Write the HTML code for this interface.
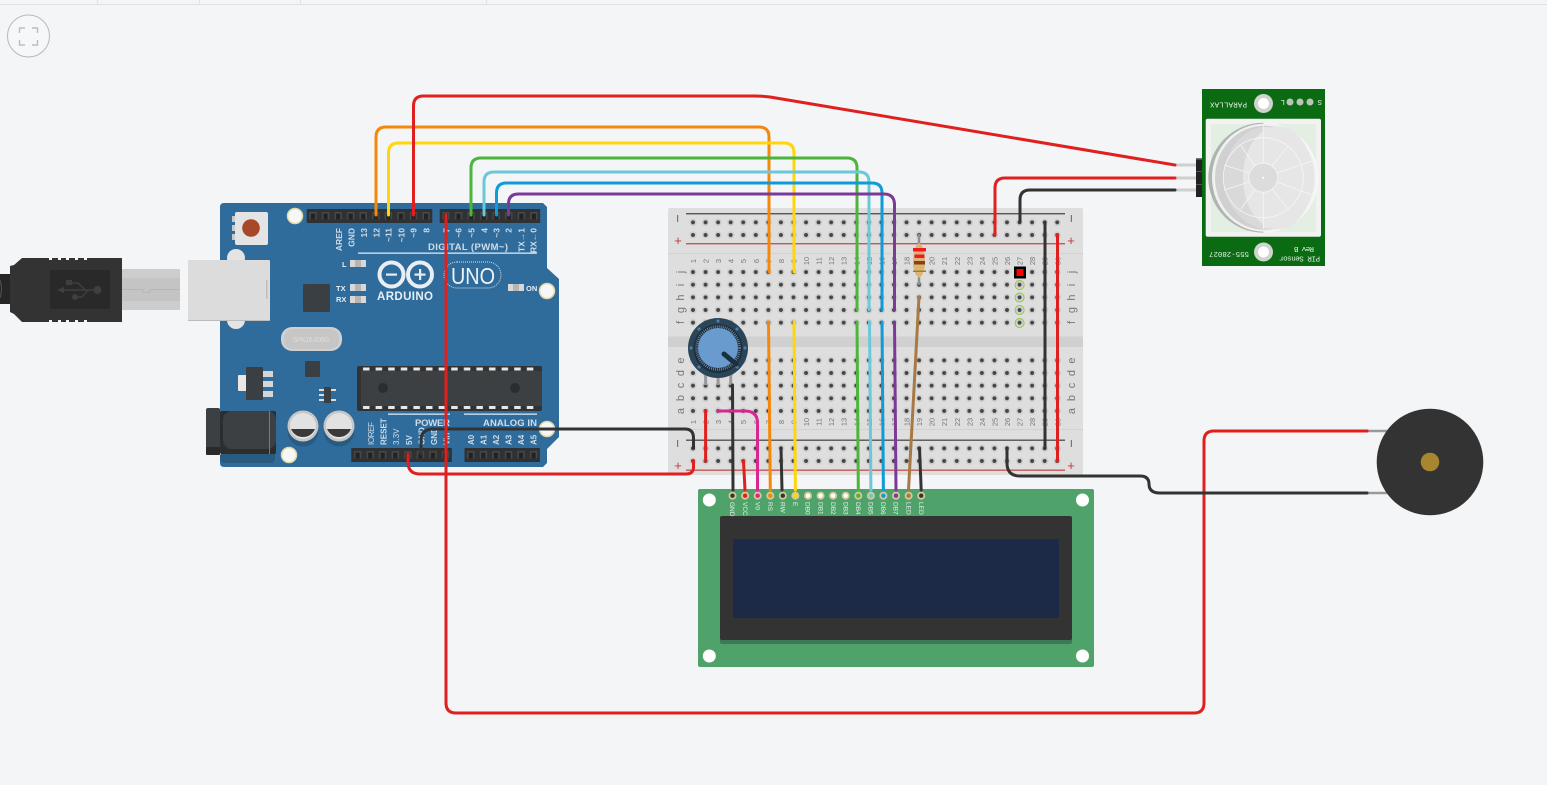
<!DOCTYPE html>
<html><head><meta charset="utf-8"><title>Circuit</title>
<style>
html,body{margin:0;padding:0;background:#f4f5f7;width:1547px;height:785px;overflow:hidden}
svg{display:block;position:absolute;left:0;top:0}
text{font-family:"Liberation Sans",sans-serif}
.w{fill:none;stroke-width:3;stroke-linecap:round;stroke-linejoin:round}
.ar{font-size:8.5px;fill:#cfdde8;font-weight:bold;text-anchor:end}
.ab{font-size:8px;fill:#cfdde8;font-weight:bold;text-anchor:start}
.bl{font-size:7.5px;fill:#777;text-anchor:middle}
.bm{font-size:11px;fill:#777;text-anchor:middle}
.lc{font-size:6.5px;fill:#e8f2ea;text-anchor:start}
.pir{font-size:7.5px;fill:#e8f0e8;font-family:"Liberation Mono",monospace}
</style></head><body>
<svg width="1547" height="785" viewBox="0 0 1547 785" xmlns="http://www.w3.org/2000/svg">
<defs>
<pattern id="h" width="12.56" height="12.65" patternUnits="userSpaceOnUse"><circle cx="6.28" cy="6.32" r="3.6" fill="#cdcdcd"/><circle cx="6.28" cy="6.32" r="2" fill="#454545"/></pattern>
<pattern id="hd" width="12.56" height="14" patternUnits="userSpaceOnUse"><rect width="12.56" height="14" fill="#2f3133"/><rect x="2.6" y="3" width="7.4" height="7.4" fill="#45484a"/><rect x="4.2" y="4.6" width="4.2" height="5.8" fill="#222"/></pattern>
<pattern id="tt" width="12.6" height="4" patternUnits="userSpaceOnUse"><rect x="3" y="0" width="6.5" height="3" fill="#e8e8e8"/></pattern>
</defs>
<rect width="1547" height="785" fill="#f4f5f7"/>
<!-- top bar -->
<rect x="0" y="4" width="1547" height="1" fill="#dfe2e8"/>
<g fill="#dfe2e8"><rect x="97" y="0" width="1" height="4"/><rect x="199" y="0" width="1" height="4"/><rect x="300" y="0" width="1" height="4"/><rect x="486" y="0" width="1" height="4"/></g>
<circle cx="28.5" cy="36" r="21" fill="#f6f7f8" stroke="#b8b8b8" stroke-width="1"/>
<path d="M19.5 33V28H25M32 28H37.5V33M37.5 40V45H32M25 45H19.5V40" fill="none" stroke="#bdbdbd" stroke-width="1.4"/>

<!-- USB -->
<rect x="0" y="274" width="11" height="30" fill="#262626"/><path d="M0 280q3 9 0 18" fill="none" stroke="#555" stroke-width="1"/>
<path d="M10 266L14 265L22 258H122V322H22L14 314L10 312Z" fill="#333"/>
<g fill="#f4f5f7"><rect x="49" y="258" width="3" height="2"/><rect x="58" y="258" width="3" height="2"/><rect x="66" y="258" width="3" height="2"/><rect x="75" y="258" width="3" height="2"/><rect x="84" y="258" width="3" height="2"/><rect x="49" y="320" width="3" height="2"/><rect x="58" y="320" width="3" height="2"/><rect x="66" y="320" width="3" height="2"/><rect x="75" y="320" width="3" height="2"/><rect x="84" y="320" width="3" height="2"/></g>
<rect x="50" y="270" width="60" height="39" fill="#292929"/>
<g fill="#3f3f3f" stroke="#3f3f3f"><path d="M58 290H97" fill="none" stroke-width="1.4"/><path d="M62 290L69 293V287Z" stroke="none" transform="translate(-5 0)"/><circle cx="97.500" cy="290" r="4" stroke="none"/><rect x="66" y="280" width="6" height="5" stroke="none"/><circle cx="75" cy="297" r="3" stroke="none"/><path d="M70 283H78L85 290M78 297H82L88 290" fill="none" stroke-width="1.4"/></g>
<rect x="122" y="269" width="58" height="41" rx="1" fill="#cdcdcd"/><rect x="122" y="278" width="58" height="23" fill="#c4c4c4"/><path d="M122 289.500H143v3h7v-3H180" fill="none" stroke="#b2b2b2" stroke-width="0.8"/>

<!-- Arduino -->
<path d="M224 203H543L547 207V268L559 279V437L547 449V463L543 467H224Q220 467 220 463V207Q220 203 224 203Z" fill="#2f6c9c"/>
<circle cx="236" cy="258" r="9" fill="#e4e4e4"/><circle cx="236" cy="320" r="9" fill="#e4e4e4"/>
<rect x="188" y="261" width="82" height="60" fill="#bcbcbc"/><rect x="188" y="260" width="82" height="60" rx="1" fill="#dcdcdc"/><rect x="266" y="280" width="1.500" height="19" fill="#bdbdbd"/>
<rect x="235" y="212" width="33" height="33" rx="2" fill="#e4e4e4"/><circle cx="251" cy="228" r="8.800" fill="#a8472a"/>
<g fill="#c9c9c9"><rect x="232" y="216" width="3" height="6"/><rect x="232" y="225" width="3" height="6"/><rect x="232" y="234" width="3" height="6"/></g>
<g fill="#f7f7f7" stroke="#e0d9a8" stroke-width="1.500"><circle cx="295" cy="216" r="7.500"/><circle cx="547" cy="291" r="7.500"/><circle cx="289" cy="455" r="7.500"/><circle cx="547" cy="429" r="7.500"/></g>
<rect transform="translate(306.700 209)" width="125.600" height="14" fill="url(#hd)"/>
<rect transform="translate(439.700 209)" width="100.500" height="14" fill="url(#hd)"/>
<rect transform="translate(351.300 448)" width="100.500" height="14" fill="url(#hd)"/>
<rect transform="translate(464.500 448)" width="75.400" height="14" fill="url(#hd)"/>
<!-- labels top -->
<text class="ar" transform="translate(342 228) rotate(-90)">AREF</text>
<text class="ar" transform="translate(354.500 228) rotate(-90)">GND</text>
<text class="ar" transform="translate(367 228) rotate(-90)">13</text>
<text class="ar" transform="translate(379.500 228) rotate(-90)">12</text>
<text class="ar" transform="translate(391.500 228) rotate(-90)">~11</text>
<text class="ar" transform="translate(404.500 228) rotate(-90)">~10</text>
<text class="ar" transform="translate(416.500 228) rotate(-90)">~9</text>
<text class="ar" transform="translate(429.500 228) rotate(-90)">8</text>
<text class="ar" transform="translate(449.500 228) rotate(-90)">7</text>
<text class="ar" transform="translate(461.500 228) rotate(-90)">~6</text>
<text class="ar" transform="translate(474.500 228) rotate(-90)">~5</text>
<text class="ar" transform="translate(487.500 228) rotate(-90)">4</text>
<text class="ar" transform="translate(499.500 228) rotate(-90)">~3</text>
<text class="ar" transform="translate(511.500 228) rotate(-90)">2</text>
<text class="ar" transform="translate(524.500 228) rotate(-90)">TX→1</text>
<text class="ar" transform="translate(536.500 228) rotate(-90)">RX←0</text>
<text x="428" y="250" font-size="9.500" font-weight="bold" fill="#cfdde8" textLength="80">DIGITAL (PWM~)</text>
<rect x="358" y="252.500" width="179" height="1.300" fill="#dbe6ef"/>
<!-- LEDs -->
<g fill="#d8d8d8"><rect x="350" y="260" width="16" height="7"/><rect x="350" y="284" width="16" height="7"/><rect x="350" y="296" width="16" height="7"/><rect x="508" y="284" width="16" height="7"/></g>
<g fill="#b5b5b5"><rect x="355" y="260" width="6" height="7"/><rect x="355" y="284" width="6" height="7"/><rect x="355" y="296" width="6" height="7"/><rect x="513" y="284" width="6" height="7"/></g>
<g font-size="7.500" fill="#e5edf3" font-weight="bold"><text x="342" y="267">L</text><text x="336" y="291">TX</text><text x="336" y="302">RX</text><text x="526" y="291">ON</text></g>
<!-- logo -->
<g fill="none" stroke="#e8eef3" stroke-width="4"><circle cx="391.500" cy="274.500" r="12"/><circle cx="420" cy="274.500" r="12"/></g>
<rect x="386" y="273.500" width="11" height="2.200" fill="#e8eef3"/><rect x="414.500" y="273.500" width="11" height="2.200" fill="#e8eef3"/><rect x="419" y="269" width="2.200" height="11" fill="#e8eef3"/>
<text x="405" y="300" font-size="11.500" font-weight="bold" fill="#e8eef3" text-anchor="middle" textLength="56">ARDUINO</text>
<rect x="444" y="262" width="57" height="26" rx="13" fill="none" stroke="#dfe8ef" stroke-width="0.900" stroke-dasharray="1 1"/>
<text x="451" y="284" font-size="23" fill="#eef3f7" textLength="44" lengthAdjust="spacingAndGlyphs">UNO</text>
<!-- parts -->
<rect x="303" y="284" width="27" height="28" rx="1.500" fill="#3a3f44"/>
<rect x="281" y="327" width="61" height="24" rx="11" fill="#d0d0d0"/><rect x="284" y="329" width="55" height="20" rx="9" fill="#c6c6c6"/>
<text x="311" y="342" font-size="7" fill="#dcdcdc" text-anchor="middle" textLength="37">SPK16.000G</text>
<rect x="305" y="361" width="15" height="16" rx="1" fill="#3a3f44"/>
<rect x="238" y="375" width="9" height="16" rx="1" fill="#e8e8e8"/>
<g fill="#d6d6d6"><rect x="263" y="371" width="10" height="6"/><rect x="263" y="381" width="10" height="6"/><rect x="263" y="391" width="10" height="6"/></g>
<rect x="246" y="367" width="17" height="33" rx="1" fill="#3a3f44"/>
<g fill="#ddd"><rect x="319" y="389" width="5" height="2"/><rect x="319" y="394" width="5" height="2"/><rect x="319" y="399" width="5" height="2"/><rect x="331" y="389" width="5" height="2"/><rect x="331" y="399" width="5" height="2"/></g>
<rect x="324" y="387" width="7" height="16" rx="1" fill="#3a3f44"/>
<rect x="357" y="366" width="185" height="45" rx="2" fill="#303234"/><rect x="361" y="371" width="181" height="35" fill="#3d4043"/>
<rect transform="translate(360 367.500)" width="176" height="3.500" fill="url(#tt)"/><rect transform="translate(360 406)" width="176" height="3.500" fill="url(#tt)"/>
<circle cx="383" cy="388" r="5" fill="#2b2d2f"/><circle cx="515" cy="388" r="5" fill="#2b2d2f"/>
<!-- jack -->
<rect x="220" y="428" width="55" height="35" rx="4" fill="#295a80"/>
<rect x="206" y="446" width="15" height="9" rx="1" fill="#c9c9c9"/>
<rect x="220" y="411" width="56" height="43" rx="2" fill="#2c2d2e"/>
<rect x="223" y="411" width="53" height="38" rx="9" fill="#3d4042"/>
<rect x="206" y="408" width="14" height="47" rx="2" fill="#3d4042"/><rect x="206" y="447" width="14" height="8" rx="1" fill="#2a2a2a"/>
<rect x="269" y="411" width="0.800" height="43" fill="#8a8a8a"/>
<!-- caps -->
<circle cx="303" cy="431" r="15.500" fill="#295a80"/><circle cx="339" cy="431" r="15.500" fill="#295a80"/>
<circle cx="303" cy="426" r="15.500" fill="#c6c6c6"/><circle cx="339" cy="426" r="15.500" fill="#c6c6c6"/>
<circle cx="303" cy="426" r="13" fill="#e2e2e2"/><circle cx="339" cy="426" r="13" fill="#e2e2e2"/>
<path d="M291 429H315A13 13 0 0 1 291 429Z" fill="#3a3a3a"/><path d="M327 429H351A13 13 0 0 1 327 429Z" fill="#3a3a3a"/>
<!-- power -->
<rect x="388" y="413.500" width="62" height="1.300" fill="#dbe6ef"/><rect x="464" y="413.500" width="73" height="1.300" fill="#dbe6ef"/>
<text x="415" y="426" font-size="9.500" font-weight="bold" fill="#cfdde8" textLength="35">POWER</text>
<text x="483" y="426" font-size="9.500" font-weight="bold" fill="#cfdde8" textLength="54">ANALOG IN</text>
<text class="ab" transform="translate(374 445) rotate(-90)" style="font-weight:normal" textLength="23">IOREF</text>
<text class="ab" transform="translate(386.500 445) rotate(-90)">RESET</text>
<text class="ab" transform="translate(399 445) rotate(-90)" style="font-weight:normal">3.3V</text>
<text class="ab" transform="translate(412 445) rotate(-90)">5V</text>
<text class="ab" transform="translate(424.500 445) rotate(-90)">GND</text>
<text class="ab" transform="translate(437 445) rotate(-90)">GND</text>
<text class="ab" transform="translate(449.500 445) rotate(-90)">Vin</text>
<text class="ab" transform="translate(474 445) rotate(-90)">A0</text>
<text class="ab" transform="translate(486.500 445) rotate(-90)">A1</text>
<text class="ab" transform="translate(499 445) rotate(-90)">A2</text>
<text class="ab" transform="translate(511.500 445) rotate(-90)">A3</text>
<text class="ab" transform="translate(524 445) rotate(-90)">A4</text>
<text class="ab" transform="translate(536.500 445) rotate(-90)">A5</text>

<!-- Breadboard -->
<rect x="668" y="208" width="415" height="267" rx="2" fill="#dedede"/>
<rect x="668" y="336.500" width="415" height="10.500" fill="#d0d0d0"/>
<rect x="668" y="253" width="415" height="1" fill="#d2d2d2"/><rect x="668" y="429" width="415" height="1" fill="#d2d2d2"/>
<rect x="686" y="213" width="379" height="1.400" fill="#555"/><rect x="686" y="243" width="379" height="1.400" fill="#c05a5a"/>
<rect x="686" y="439.500" width="379" height="1.400" fill="#555"/><rect x="686" y="469.500" width="379" height="1.400" fill="#c05a5a"/>
<rect transform="translate(686.720 216)" width="376.800" height="25.300" fill="url(#h)"/>
<rect transform="translate(686.720 265.700)" width="376.800" height="63.250" fill="url(#h)"/>
<rect transform="translate(686.720 354)" width="376.800" height="63.250" fill="url(#h)"/>
<rect transform="translate(686.720 442)" width="376.800" height="25.300" fill="url(#h)"/>
<g fill="#c03a3a" font-size="13" text-anchor="middle"><text x="678" y="245">+</text><text x="1071" y="245">+</text><text x="678" y="470">+</text><text x="1071" y="470">+</text></g>
<g fill="#777"><rect x="677" y="215" width="1.200" height="7"/><rect x="1070.800" y="215" width="1.200" height="7"/><rect x="677" y="440" width="1.200" height="7"/><rect x="1070.800" y="440" width="1.200" height="7"/></g>
<g>
<text class="bm" transform="translate(684 272) rotate(-90)">j</text><text class="bm" transform="translate(684 285) rotate(-90)">i</text><text class="bm" transform="translate(684 297.500) rotate(-90)">h</text><text class="bm" transform="translate(684 310) rotate(-90)">g</text><text class="bm" transform="translate(684 322.500) rotate(-90)">f</text>
<text class="bm" transform="translate(684 360.500) rotate(-90)">e</text><text class="bm" transform="translate(684 373) rotate(-90)">d</text><text class="bm" transform="translate(684 385.500) rotate(-90)">c</text><text class="bm" transform="translate(684 398) rotate(-90)">b</text><text class="bm" transform="translate(684 411) rotate(-90)">a</text>
<text class="bm" transform="translate(1075 272) rotate(-90)">j</text><text class="bm" transform="translate(1075 285) rotate(-90)">i</text><text class="bm" transform="translate(1075 297.500) rotate(-90)">h</text><text class="bm" transform="translate(1075 310) rotate(-90)">g</text><text class="bm" transform="translate(1075 322.500) rotate(-90)">f</text>
<text class="bm" transform="translate(1075 360.500) rotate(-90)">e</text><text class="bm" transform="translate(1075 373) rotate(-90)">d</text><text class="bm" transform="translate(1075 385.500) rotate(-90)">c</text><text class="bm" transform="translate(1075 398) rotate(-90)">b</text><text class="bm" transform="translate(1075 411) rotate(-90)">a</text>
</g>
<!-- column numbers -->
<g>
<text class="bl" transform="translate(696 261) rotate(-90)">1</text><text class="bl" transform="translate(708.600 261) rotate(-90)">2</text><text class="bl" transform="translate(721.100 261) rotate(-90)">3</text><text class="bl" transform="translate(733.700 261) rotate(-90)">4</text><text class="bl" transform="translate(746.200 261) rotate(-90)">5</text><text class="bl" transform="translate(758.800 261) rotate(-90)">6</text><text class="bl" transform="translate(771.400 261) rotate(-90)">7</text><text class="bl" transform="translate(783.900 261) rotate(-90)">8</text><text class="bl" transform="translate(796.500 261) rotate(-90)">9</text><text class="bl" transform="translate(809 261) rotate(-90)">10</text><text class="bl" transform="translate(821.600 261) rotate(-90)">11</text><text class="bl" transform="translate(834.200 261) rotate(-90)">12</text><text class="bl" transform="translate(846.700 261) rotate(-90)">13</text><text class="bl" transform="translate(859.300 261) rotate(-90)">14</text><text class="bl" transform="translate(871.800 261) rotate(-90)">15</text><text class="bl" transform="translate(884.400 261) rotate(-90)">16</text><text class="bl" transform="translate(897 261) rotate(-90)">17</text><text class="bl" transform="translate(909.500 261) rotate(-90)">18</text><text class="bl" transform="translate(922.100 261) rotate(-90)">19</text><text class="bl" transform="translate(934.600 261) rotate(-90)">20</text><text class="bl" transform="translate(947.200 261) rotate(-90)">21</text><text class="bl" transform="translate(959.800 261) rotate(-90)">22</text><text class="bl" transform="translate(972.300 261) rotate(-90)">23</text><text class="bl" transform="translate(984.900 261) rotate(-90)">24</text><text class="bl" transform="translate(997.400 261) rotate(-90)">25</text><text class="bl" transform="translate(1010 261) rotate(-90)">26</text><text class="bl" transform="translate(1022.600 261) rotate(-90)">27</text><text class="bl" transform="translate(1035.100 261) rotate(-90)">28</text><text class="bl" transform="translate(1047.700 261) rotate(-90)">29</text><text class="bl" transform="translate(1060.300 261) rotate(-90)">30</text>
<text class="bl" transform="translate(696 422) rotate(-90)">1</text><text class="bl" transform="translate(708.600 422) rotate(-90)">2</text><text class="bl" transform="translate(721.100 422) rotate(-90)">3</text><text class="bl" transform="translate(733.700 422) rotate(-90)">4</text><text class="bl" transform="translate(746.200 422) rotate(-90)">5</text><text class="bl" transform="translate(758.800 422) rotate(-90)">6</text><text class="bl" transform="translate(771.400 422) rotate(-90)">7</text><text class="bl" transform="translate(783.900 422) rotate(-90)">8</text><text class="bl" transform="translate(796.500 422) rotate(-90)">9</text><text class="bl" transform="translate(809 422) rotate(-90)">10</text><text class="bl" transform="translate(821.600 422) rotate(-90)">11</text><text class="bl" transform="translate(834.200 422) rotate(-90)">12</text><text class="bl" transform="translate(846.700 422) rotate(-90)">13</text><text class="bl" transform="translate(859.300 422) rotate(-90)">14</text><text class="bl" transform="translate(871.800 422) rotate(-90)">15</text><text class="bl" transform="translate(884.400 422) rotate(-90)">16</text><text class="bl" transform="translate(897 422) rotate(-90)">17</text><text class="bl" transform="translate(909.500 422) rotate(-90)">18</text><text class="bl" transform="translate(922.100 422) rotate(-90)">19</text><text class="bl" transform="translate(934.600 422) rotate(-90)">20</text><text class="bl" transform="translate(947.200 422) rotate(-90)">21</text><text class="bl" transform="translate(959.800 422) rotate(-90)">22</text><text class="bl" transform="translate(972.300 422) rotate(-90)">23</text><text class="bl" transform="translate(984.900 422) rotate(-90)">24</text><text class="bl" transform="translate(997.400 422) rotate(-90)">25</text><text class="bl" transform="translate(1010 422) rotate(-90)">26</text><text class="bl" transform="translate(1022.600 422) rotate(-90)">27</text><text class="bl" transform="translate(1035.100 422) rotate(-90)">28</text><text class="bl" transform="translate(1047.700 422) rotate(-90)">29</text><text class="bl" transform="translate(1060.300 422) rotate(-90)">30</text>
</g>
<!-- highlights -->
<rect x="1014" y="266.500" width="12" height="12" fill="#000"/><rect x="1016.500" y="269" width="7" height="7" fill="#f00"/>
<g fill="none" stroke="#8cc63f" stroke-width="1"><circle cx="1019.600" cy="285" r="4.500"/><circle cx="1019.600" cy="297.500" r="4.500"/><circle cx="1019.600" cy="310" r="4.500"/><circle cx="1019.600" cy="323" r="4.500"/></g>

<!-- LCD -->
<rect x="698" y="489" width="396" height="178" rx="2" fill="#4fa36a"/>
<rect x="720" y="520" width="352" height="124" rx="2" fill="#3c7a55"/>
<rect x="720" y="516" width="352" height="124" rx="2" fill="#333"/>
<rect x="733" y="539" width="326" height="79" rx="2" fill="#1c2947"/>
<g fill="#fff"><circle cx="709.300" cy="500" r="6.500"/><circle cx="1082.500" cy="500" r="6.500"/><circle cx="709.300" cy="656" r="6.500"/><circle cx="1082.500" cy="656" r="6.500"/></g>
<g fill="#d5c99a"><circle cx="732.500" cy="495.700" r="4"/><circle cx="745.100" cy="495.700" r="4"/><circle cx="757.700" cy="495.700" r="4"/><circle cx="770.300" cy="495.700" r="4"/><circle cx="782.800" cy="495.700" r="4"/><circle cx="795.400" cy="495.700" r="4"/><circle cx="808" cy="495.700" r="4"/><circle cx="820.600" cy="495.700" r="4"/><circle cx="833.100" cy="495.700" r="4"/><circle cx="845.700" cy="495.700" r="4"/><circle cx="858.300" cy="495.700" r="4"/><circle cx="870.900" cy="495.700" r="4"/><circle cx="883.400" cy="495.700" r="4"/><circle cx="896" cy="495.700" r="4"/><circle cx="908.600" cy="495.700" r="4"/><circle cx="921.200" cy="495.700" r="4"/></g>
<g fill="#fff"><circle cx="808" cy="495.700" r="2.200"/><circle cx="820.600" cy="495.700" r="2.200"/><circle cx="833.100" cy="495.700" r="2.200"/><circle cx="845.700" cy="495.700" r="2.200"/></g>
<text class="lc" transform="translate(730.200 502) rotate(90)">GND</text><text class="lc" transform="translate(742.800 502) rotate(90)">VCC</text><text class="lc" transform="translate(755.400 502) rotate(90)">V0</text><text class="lc" transform="translate(768 502) rotate(90)">RS</text><text class="lc" transform="translate(780.500 502) rotate(90)">RW</text><text class="lc" transform="translate(793.100 502) rotate(90)">E</text><text class="lc" transform="translate(805.700 502) rotate(90)">DB0</text><text class="lc" transform="translate(818.300 502) rotate(90)">DB1</text><text class="lc" transform="translate(830.800 502) rotate(90)">DB2</text><text class="lc" transform="translate(843.400 502) rotate(90)">DB3</text><text class="lc" transform="translate(856 502) rotate(90)">DB4</text><text class="lc" transform="translate(868.600 502) rotate(90)">DB5</text><text class="lc" transform="translate(881.100 502) rotate(90)">DB6</text><text class="lc" transform="translate(893.700 502) rotate(90)">DB7</text><text class="lc" transform="translate(906.300 502) rotate(90)">LED</text><text class="lc" transform="translate(918.900 502) rotate(90)">LED</text>

<!-- Resistor -->
<path d="M919 234V285" stroke="#8f8f8f" stroke-width="2.500" fill="none"/>
<path d="M915 249Q915 246 919 243Q923 246 923 249Q925 255 925 262Q925 270 923 271Q924 274 919 278Q914 274 915 271Q913 270 913 262Q913 255 915 249Z" fill="#dcb478"/>
<rect x="913" y="248" width="13" height="3.500" fill="#f01c1c"/><rect x="914.500" y="254.500" width="10" height="3.500" fill="#f01c1c"/><rect x="914" y="261" width="11" height="3.500" fill="#8b3f12"/><rect x="913" y="270.500" width="13" height="1.500" fill="#9a8020"/>

<!-- Pot -->
<path d="M705.600 372V385M718.100 372V385M730.700 372V385" stroke="#9a9a9a" stroke-width="3" fill="none"/>
<circle cx="718" cy="348" r="30" fill="#2b4558"/>
<circle cx="718" cy="348.500" r="24.500" fill="#1c2f3e"/>
<circle cx="718" cy="348" r="21.500" fill="none" stroke="#7f9ab0" stroke-width="2.600" stroke-dasharray="0.700 1.300"/>
<circle cx="718" cy="348" r="20" fill="#6a9bcf"/>
<g fill="#4d7fa0"><circle cx="718" cy="321" r="1.600"/><circle cx="737" cy="329" r="1.600"/><circle cx="745" cy="348" r="1.600"/><circle cx="737" cy="367" r="1.600"/><circle cx="699" cy="367" r="1.600"/><circle cx="691" cy="348" r="1.600"/><circle cx="699" cy="329" r="1.600"/></g>
<path d="M724 354L736 364" stroke="#1c2f3e" stroke-width="5" stroke-linecap="round"/>

<!-- Buzzer -->
<path d="M1367 431H1390M1367 493H1390" stroke="#999" stroke-width="2.500" fill="none"/>
<circle cx="1430" cy="462" r="53.300" fill="#333"/><circle cx="1430" cy="462" r="9.300" fill="#a8862f"/>

<!-- PIR -->
<path d="M1175 165L1196 165M1175 178L1196 178M1175 190L1196 190" stroke="#cfcfcf" stroke-width="3" fill="none"/>
<rect x="1196" y="158" width="7" height="39" fill="#222"/><rect x="1196" y="158" width="7" height="1.500" fill="#777"/><rect x="1196" y="171" width="7" height="1" fill="#555"/><rect x="1196" y="184" width="7" height="1" fill="#555"/>
<rect x="1202" y="89" width="123" height="177" fill="#0a6b12"/>
<rect x="1205.700" y="118.700" width="115.300" height="118" rx="2" fill="#f2f2f2"/>
<rect x="1211" y="124" width="105" height="108" fill="#e3efe3"/>
<circle cx="1263.300" cy="177.700" r="55" fill="#f7f7f7"/>
<path d="M1263.300 122.700A55 55 0 0 0 1263.300 232.700Z" fill="#aeb4ae"/>
<ellipse cx="1264" cy="177.700" rx="52" ry="54" fill="#f0f0f0"/>
<ellipse cx="1264.500" cy="177.700" rx="49.500" ry="52" fill="#d0d0d0"/>
<ellipse cx="1269" cy="177.700" rx="45" ry="51.500" fill="#d9d9d9"/>
<ellipse cx="1278" cy="177.700" rx="35" ry="51.500" fill="#e6e6e6"/>
<path d="M1263.300 127A50.700 50.700 0 0 1 1263.300 228.400Z" fill="#e6e6e6"/>
<circle cx="1263.300" cy="177.700" r="14.500" fill="#dcdcdc"/>
<g fill="none" stroke="#f6f6f6" stroke-width="0.800"><circle cx="1263.300" cy="177.700" r="40"/><circle cx="1263.300" cy="177.700" r="14.500"/><path d="M1263.300 126V163M1263.300 192V229M1277 173L1312 161M1277 182L1312 195M1249 173L1224 165M1249 182L1224 190M1272 166L1288 146M1272 189L1288 209M1255 166L1241 146M1255 189L1241 209"/></g>
<circle cx="1263.300" cy="177.700" r="1" fill="#fff"/>
<g><circle cx="1263.500" cy="103.500" r="9.500" fill="#cfd4cf"/><circle cx="1263.500" cy="103.500" r="5.500" fill="#fff"/><circle cx="1263.500" cy="252" r="9.500" fill="#cfd4cf"/><circle cx="1263.500" cy="252" r="5.500" fill="#fff"/></g>
<g fill="#b8c6b8"><circle cx="1290" cy="102" r="3.500"/><circle cx="1300" cy="102" r="3.500"/><circle cx="1310" cy="102" r="3.500"/></g>
<text class="pir" transform="translate(1247 102.500) rotate(180)" textLength="37">PARALLAX</text>
<text class="pir" transform="translate(1285 100) rotate(180)">L</text>
<text class="pir" transform="translate(1322 100) rotate(180)">S</text>
<text class="pir" transform="translate(1249 252) rotate(180)" textLength="40">555-28027</text>
<text class="pir" transform="translate(1320 256.500) rotate(180)" textLength="41">PIR Sensor</text>
<text class="pir" transform="translate(1314 247) rotate(180)" textLength="20">Rev B</text>

<!-- Wires -->
<path class="w" stroke="#333" d="M732.500 385L733 490"/>
<path class="w" stroke="#e0201f" d="M743.500 461L745 490"/>
<path class="w" stroke="#333" d="M781 448L782 490"/>
<path class="w" stroke="#d9278f" d="M718 411H745Q757.500 411 757.500 423V490"/>
<path class="w" stroke="#e0201f" d="M705.600 411V461"/>
<path class="w" stroke="#f5880b" d="M376 215V137Q376 127 386 127H759Q769 127 769 137V272"/>
<path class="w" stroke="#f5880b" d="M768.500 322L770.300 490"/>
<path class="w" stroke="#ffd60a" d="M388.500 215V153Q388.500 143 398.500 143H784Q794 143 794 153V272"/>
<path class="w" stroke="#ffd60a" d="M794 322L795.400 490"/>
<path class="w" stroke="#e0201f" d="M413.500 215V106Q413.500 96 423.500 96H755Q763 96 770 97L1175 165"/>
<path class="w" stroke="#4db53c" d="M471 215V168Q471 158 481 158H847Q857 158 857 168V310"/>
<path class="w" stroke="#4db53c" d="M857 322L858.300 490"/>
<path class="w" stroke="#6ac8d9" d="M484 215V182Q484 172 494 172H859Q869 172 869 182V310"/>
<path class="w" stroke="#6ac8d9" d="M869.500 322L870.900 490"/>
<path class="w" stroke="#0e9bd6" d="M496.500 215V193Q496.500 183 506.500 183H872Q882 183 882 193V310"/>
<path class="w" stroke="#0e9bd6" d="M882 322L883.400 490"/>
<path class="w" stroke="#7b3a98" d="M508.500 215V204Q508.500 194 518.500 194H884Q894 194 894.500 204V310"/>
<path class="w" stroke="#7b3a98" d="M894.500 322L896 490"/>
<path class="w" stroke="#a87845" d="M919 297L908.500 490"/>
<path class="w" stroke="#333" d="M919.500 448L921.200 490"/>
<path class="w" stroke="#e0201f" d="M995 235V188Q995 178 1005 178H1175"/>
<path class="w" stroke="#333" d="M1020 222V200Q1020 190 1030 190H1175"/>
<path class="w" stroke="#333" d="M1045 222V448"/>
<path class="w" stroke="#e0201f" d="M1057.500 235V461"/>
<path class="w" stroke="#333" d="M421 454V441Q421 429 433 429H685Q693.500 429 693.500 438V448"/>
<path class="w" stroke="#e0201f" d="M408 454V462Q408 474 420 474H686Q693.500 474 693.500 467V461"/>
<path class="w" stroke="#e0201f" d="M446 215V703Q446 713 456 713H1194Q1204 713 1204 703V441Q1204 431 1214 431H1367"/>
<path class="w" stroke="#333" d="M1007 448V463Q1007 476 1020 476H1140Q1149 476 1149 484Q1149 493 1160 493H1367"/>
<!-- LCD pin dots on top of wires -->
<g><circle cx="732.500" cy="495.700" r="2.200" fill="#333"/><circle cx="745.100" cy="495.700" r="2.200" fill="#e0201f"/><circle cx="757.700" cy="495.700" r="2.200" fill="#d9278f"/><circle cx="770.300" cy="495.700" r="2.200" fill="#f5880b"/><circle cx="782.800" cy="495.700" r="2.200" fill="#333"/><circle cx="795.400" cy="495.700" r="2.200" fill="#ffd60a"/><circle cx="858.300" cy="495.700" r="2.200" fill="#4db53c"/><circle cx="870.900" cy="495.700" r="2.200" fill="#6ac8d9"/><circle cx="883.400" cy="495.700" r="2.200" fill="#0e9bd6"/><circle cx="896" cy="495.700" r="2.200" fill="#7b3a98"/><circle cx="908.600" cy="495.700" r="2.200" fill="#a87845"/><circle cx="921.200" cy="495.700" r="2.200" fill="#333"/></g>
</svg>
</body></html>
